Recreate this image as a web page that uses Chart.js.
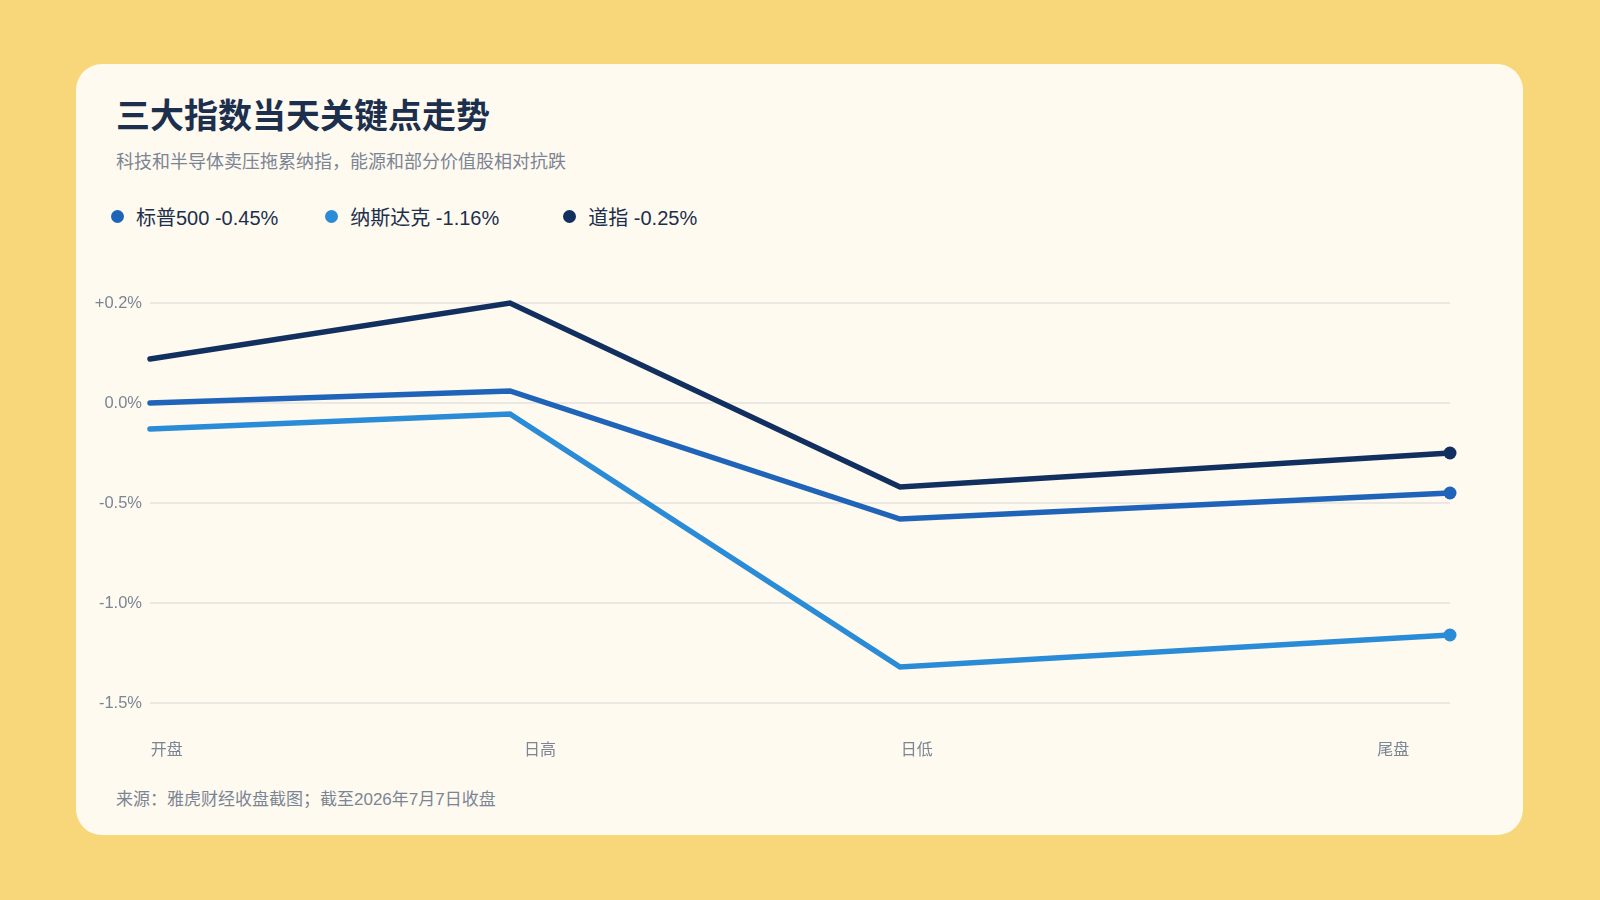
<!DOCTYPE html>
<html lang="zh">
<head>
<meta charset="utf-8">
<script src="https://cdn.jsdelivr.net/npm/chart.js@4"></script>
<style>
  html, body { margin: 0; padding: 0; }
  body {
    width: 1600px; height: 900px; background: #f8d77b; position: relative;
    font-family: "Liberation Sans", "Noto Sans CJK SC", sans-serif; overflow: hidden;
  }
  .card {
    position: absolute; left: 76px; top: 64px; width: 1447px; height: 771px;
    background: #fefaf0; border-radius: 26px;
  }
  .title {
    position: absolute; left: 116px; top: 96px; font-size: 34px; line-height: 40px;
    font-weight: 700; color: #1c2f4d;
  }
  .subtitle {
    position: absolute; left: 116px; top: 151px; font-size: 18px; line-height: 22px; color: #7c8594;
  }
  .legend {
    position: absolute; left: 111px; top: 204px; height: 24px; display: flex; align-items: center;
  }
  .legend .item { display: flex; align-items: center; font-size: 20px; color: #1c2f4d; margin-right: 47px; }
  .legend .item:nth-child(2) { margin-right: 64px; }
  .legend .dot { width: 13px; height: 13px; border-radius: 50%; margin-right: 12px; }
  .footer {
    position: absolute; left: 116px; top: 789px; font-size: 17px; line-height: 22px; color: #7c8594;
  }
  .chart-box { position: absolute; left: 80px; top: 285px; width: 1420px; height: 490px; }
</style>
</head>
<body>
<div class="card"></div>
<div class="title">三大指数当天关键点走势</div>
<div class="subtitle">科技和半导体卖压拖累纳指，能源和部分价值股相对抗跌</div>
<div class="legend" id="legend"></div>
<div class="chart-box"><canvas id="chart"></canvas></div>
<div class="footer">来源：雅虎财经收盘截图；截至2026年7月7日收盘</div>

<script>
// key points of the session (minutes after the open)
const categories = ['开盘', '日高', '日低', '尾盘'];
const pointMinutes = [0, 108, 225, 390];
const xTickValues = [5, 117, 230, 373];

const seriesNames = ['标普500 -0.45%', '纳斯达克 -1.16%', '道指 -0.25%'];
const seriesColors = ['#1f64b8', '#2a8bd6', '#11305f'];
const sp500 = [0.0, 0.06, -0.58, -0.45];
const nasdaq = [-0.13, -0.055, -1.32, -1.16];
const dow = [0.22, 0.50, -0.42, -0.25];

const yTicks = [0.5, 0, -0.5, -1.0, -1.5];
const yTickLabels = ['+0.2%', '0.0%', '-0.5%', '-1.0%', '-1.5%'];

const seriesValues = [sp500, nasdaq, dow];

// html legend
const legendEl = document.getElementById('legend');
seriesNames.forEach((name, i) => {
  const item = document.createElement('div');
  item.className = 'item';
  item.innerHTML = '<span class="dot" style="background:' + seriesColors[i] + '"></span>' + name;
  legendEl.appendChild(item);
});

const tickColor = '#7c8594';
const font = { family: '"Liberation Sans", "Noto Sans CJK SC", sans-serif', size: 16 };

const ctx = document.getElementById('chart').getContext('2d');
new Chart(ctx, {
  type: 'line',
  data: {
    datasets: seriesValues.map((vals, i) => ({
      label: seriesNames[i],
      data: vals.map((v, j) => ({ x: pointMinutes[j], y: v })),
      borderColor: seriesColors[i],
      backgroundColor: seriesColors[i],
      borderWidth: 5.5,
      borderCapStyle: 'round',
      borderJoinStyle: 'miter',
      tension: 0,
      fill: false,
      clip: false,
      pointRadius: (c) => (c.dataIndex === vals.length - 1 ? 6.5 : 0),
      pointHoverRadius: 0,
      pointBorderWidth: 0,
    })),
  },
  options: {
    responsive: true,
    maintainAspectRatio: false,
    animation: false,
    layout: { padding: { top: 18, right: 50, left: 0, bottom: 0 } },
    plugins: {
      legend: { display: false },
      tooltip: { enabled: false },
    },
    scales: {
      x: {
        type: 'linear',
        min: 0,
        max: 390,
        border: { display: false },
        grid: { display: false, drawTicks: false },
        afterBuildTicks: (scale) => { scale.ticks = xTickValues.map((v) => ({ value: v })); },
        afterFit: (scale) => { scale.height = 72; },
        ticks: {
          autoSkip: false,
          maxRotation: 0,
          padding: 38,
          color: tickColor,
          font: font,
          callback: (value, index) => categories[index],
        },
      },
      y: {
        min: -1.5,
        max: 0.5,
        border: { display: false },
        grid: { color: '#ebe8e4', lineWidth: 2, drawTicks: false },
        afterBuildTicks: (scale) => { scale.ticks = yTicks.map((v) => ({ value: v })); },
        afterFit: (scale) => { scale.width = 70; },
        ticks: {
          padding: 8,
          color: tickColor,
          font: { family: font.family, size: 16.5 },
          callback: (value, index) => yTickLabels[index],
        },
      },
    },
  },
});
</script>
</body>
</html>
